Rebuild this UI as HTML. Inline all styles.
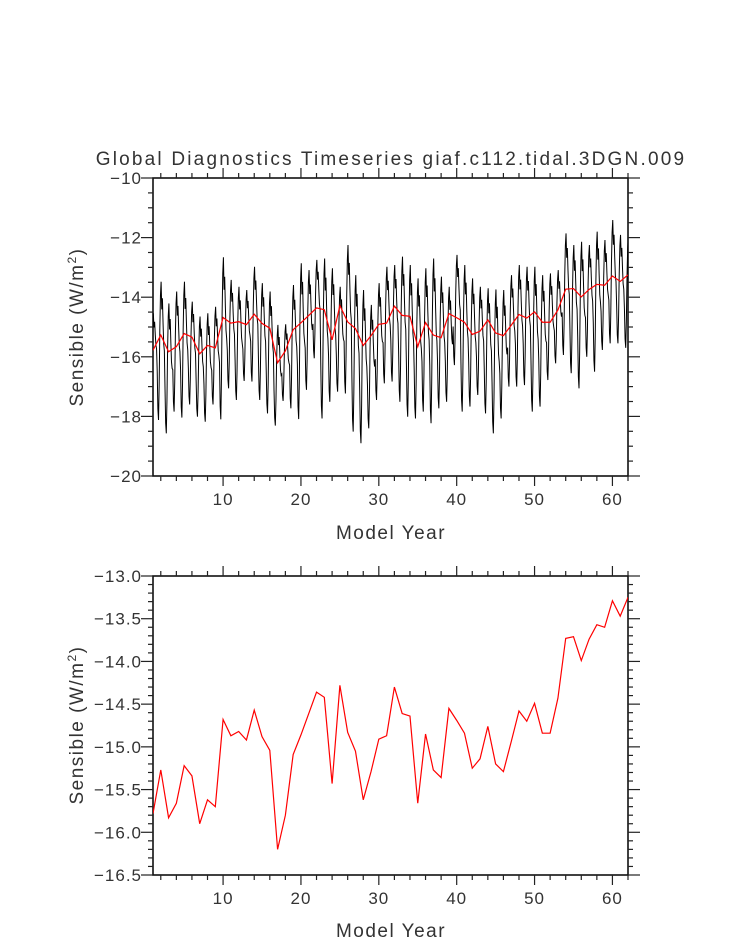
<!DOCTYPE html>
<html><head><meta charset="utf-8"><style>
html,body{margin:0;padding:0;background:#fff;}
svg{display:block;}
text{font-family:"Liberation Sans",sans-serif;fill:#333;}
</style></head><body>
<svg id="chart" width="733" height="945" xmlns="http://www.w3.org/2000/svg">
<defs>
<clipPath id="clipTop"><rect x="153" y="178" width="475" height="298"/></clipPath>
<clipPath id="clipBot"><rect x="153" y="576" width="475" height="299"/></clipPath>
</defs>
<text x="391" y="165" text-anchor="middle" font-size="19" letter-spacing="2.2">Global Diagnostics Timeseries giaf.c112.tidal.3DGN.009</text>
<g id="topPanel"></g>
<g id="botPanel"></g>
</svg>
<script>
const years = [];
for (let i = 1; i <= 62; i++) years.push(i);
const annualMean = [-15.78,-15.27,-15.83,-15.66,-15.22,-15.34,-15.90,-15.62,-15.70,-14.68,
-14.87,-14.82,-14.92,-14.57,-14.88,-15.04,-16.20,-15.80,-15.09,-14.86,
-14.61,-14.36,-14.42,-15.43,-14.28,-14.83,-15.05,-15.62,-15.29,-14.91,
-14.87,-14.30,-14.61,-14.64,-15.66,-14.85,-15.27,-15.36,-14.55,-14.69,
-14.84,-15.25,-15.14,-14.76,-15.20,-15.29,-14.94,-14.58,-14.70,-14.49,
-14.84,-14.84,-14.43,-13.73,-13.71,-13.99,-13.74,-13.57,-13.60,-13.29,
-13.47,-13.25];
const yearMax = [-14.54,-13.48,-14.21,-13.81,-13.48,-14.15,-14.65,-14.54,-14.32,-12.66,
-13.42,-13.65,-13.76,-12.98,-13.53,-13.81,-14.93,-14.91,-13.59,-12.86,
-13.09,-12.75,-12.70,-13.03,-13.65,-12.25,-13.26,-13.76,-14.26,-13.53,
-12.98,-12.92,-12.64,-12.92,-13.37,-13.03,-12.70,-13.31,-13.65,-12.58,
-12.92,-13.37,-13.65,-13.70,-13.74,-13.76,-13.26,-12.92,-12.98,-12.98,
-13.26,-13.20,-13.09,-11.86,-12.25,-12.14,-12.25,-11.80,-12.08,-11.41,
-11.91,-11.97];
const yearMin = [-16.92,-18.12,-18.57,-17.84,-18.04,-17.60,-18.01,-18.18,-17.60,-18.10,
-17.06,-17.45,-16.81,-16.83,-17.45,-17.90,-18.31,-17.48,-17.73,-18.09,
-17.11,-16.05,-18.07,-17.51,-17.17,-17.23,-18.51,-18.90,-18.40,-17.45,
-16.89,-16.83,-17.51,-18.01,-18.07,-17.84,-18.23,-17.73,-17.51,-16.28,
-17.84,-17.67,-17.28,-17.90,-18.57,-18.07,-17.00,-17.00,-16.95,-17.84,
-17.67,-16.78,-16.22,-15.94,-16.55,-17.06,-16.00,-16.50,-15.77,-15.55,
-15.55,-15.70];
const monthShape = [0.35,0.08,0.0,0.25,0.65,0.9,1.0,0.8,0.88,0.7,0.55,0.5];
const xTicks = [10,20,30,40,50,60];
const topYTicks = [-10,-12,-14,-16,-18,-20];
const botYTicks = [-13.0,-13.5,-14.0,-14.5,-15.0,-15.5,-16.0,-16.5];

const NS = "http://www.w3.org/2000/svg";
function mk(parent, tag, attrs, txt) {
  const e = document.createElementNS(NS, tag);
  for (const k in attrs) e.setAttribute(k, attrs[k]);
  if (txt !== undefined) e.textContent = txt;
  parent.appendChild(e);
  return e;
}
const L = 153, R = 628;
function xs(v) { return L + (v - 1) * (R - L) / 61; }
function fmt(v, d) { const s = Math.abs(v).toFixed(d); return v < 0 ? "\u2212" + s : s; }

function panel(g, T, B, y0, y1, ticks, dec, minorStep, ytitleY, xtitleY) {
  const ys = v => T + (y1 - v) * (B - T) / (y1 - y0);
  const f = mk(g, "rect", {x: L, y: T, width: R - L, height: B - T, fill: "none", stroke: "#111", "stroke-width": 1.6});
  
  
  const tg = mk(g, "g", {stroke: "#222", "stroke-width": 1.2});
  
  
  for (let v = 2; v <= 62; v += 2) {
    const x = xs(v), maj = v % 10 === 0, len = maj ? 10 : 5;
    mk(tg, "line", {x1: x, x2: x, y1: B, y2: B + len});
    mk(tg, "line", {x1: x, x2: x, y1: T, y2: T - len});
  }
  xTicks.forEach(t => {
    const lb = mk(g, "text", {x: xs(t), y: B + 29, "text-anchor": "middle", "font-size": 17, "letter-spacing": 1}, String(t));
    
    
  });
  const nMin = Math.round((y1 - y0) / minorStep);
  for (let i = 0; i <= nMin; i++) {
    const v = y0 + i * minorStep, y = ys(v);
    const maj = ticks.some(t => Math.abs(t - v) < 1e-6), len = maj ? 12 : 5;
    mk(tg, "line", {x1: L, x2: L - len, y1: y, y2: y});
    mk(tg, "line", {x1: R, x2: R + len, y1: y, y2: y});
  }
  ticks.forEach(t => {
    const lb = mk(g, "text", {x: 142, y: ys(t) + 6, "text-anchor": "end", "font-size": 17, "letter-spacing": 1}, fmt(t, dec));
    
    
  });
  const xt = mk(g, "text", {x: 391, y: xtitleY, "text-anchor": "middle", "font-size": 19, "letter-spacing": 1.5}, "Model Year");
  
  
  const yt = mk(g, "text", {x: 0, y: 0, "text-anchor": "middle", "font-size": 19, "letter-spacing": 1.5, transform: "translate(83," + ytitleY + ") rotate(-90)"});
  yt.appendChild(document.createTextNode("Sensible (W/m"));
  const sup = mk(yt, "tspan", {dy: -7, "font-size": 12}, "2");
  const cl = mk(yt, "tspan", {dy: 7}, ")");
  
  
  return ys;
}

const topG = document.getElementById("topPanel");
const ysT = panel(topG, 178, 476, -20, -10, topYTicks, 0, 0.5, 327, 539);
const pts = [];
years.forEach((yr, i) => {
  monthShape.forEach((s, m) => {
    const v = yearMin[i] + s * (yearMax[i] - yearMin[i]);
    pts.push(xs(yr + (m - 5.5) / 12).toFixed(2) + "," + ysT(v).toFixed(2));
  });
});
const mline = mk(topG, "polyline", {points: pts.join(" "), fill: "none", stroke: "#000", "stroke-width": 1, "clip-path": "url(#clipTop)"});


const aT = mk(topG, "polyline", {points: years.map((y, i) => xs(y).toFixed(2) + "," + ysT(annualMean[i]).toFixed(2)).join(" "), fill: "none", stroke: "#f00", "stroke-width": 1.2, "clip-path": "url(#clipTop)"});



const botG = document.getElementById("botPanel");
const ysB = panel(botG, 576, 875, -16.5, -13.0, botYTicks, 1, 0.1, 725, 937);
const aB = mk(botG, "polyline", {points: years.map((y, i) => xs(y).toFixed(2) + "," + ysB(annualMean[i]).toFixed(2)).join(" "), fill: "none", stroke: "#f00", "stroke-width": 1.2, "clip-path": "url(#clipBot)"});


</script>
</body></html>
